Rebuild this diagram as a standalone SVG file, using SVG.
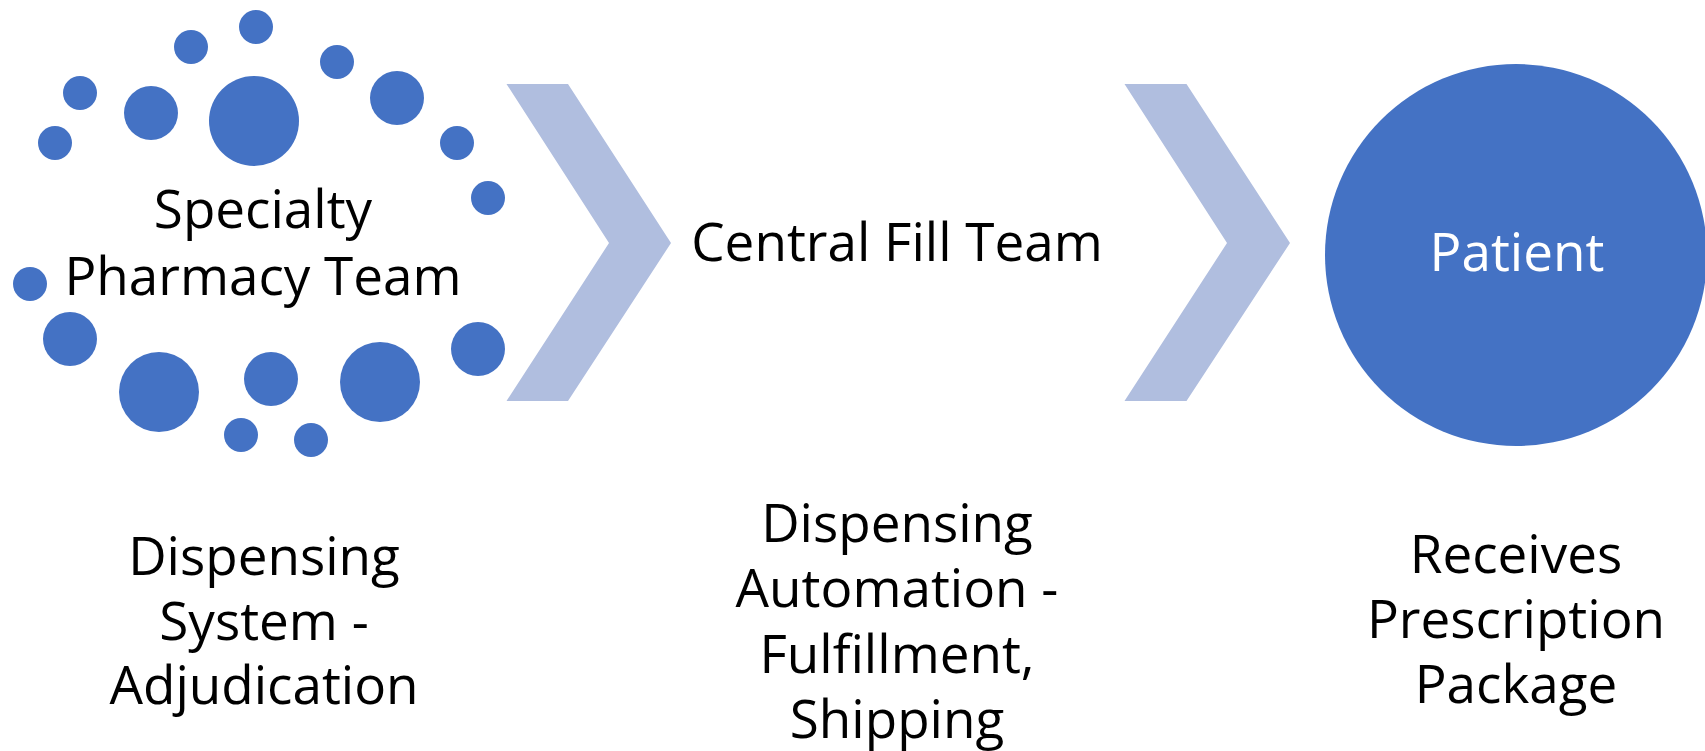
<svg xmlns="http://www.w3.org/2000/svg" width="1705" height="751" viewBox="0 0 1705 751">
<style>
.dot{fill:#4472C4}
.chev{fill:#B0BEDF}
.t{font-family:"Open Sans","Noto Sans","Liberation Sans",sans-serif;font-size:53px;fill:#000;text-anchor:middle}
.w{fill:#fff}
</style>
<rect width="1705" height="751" fill="#fff"/>
<g id="specialty-pharmacy-team">
<circle class="dot" cx="256" cy="27" r="17"/>
<circle class="dot" cx="191" cy="47" r="17"/>
<circle class="dot" cx="337" cy="62" r="17"/>
<circle class="dot" cx="80" cy="93" r="17"/>
<circle class="dot" cx="151" cy="113" r="27"/>
<circle class="dot" cx="254" cy="121" r="45"/>
<circle class="dot" cx="397" cy="98" r="27"/>
<circle class="dot" cx="55" cy="143" r="17"/>
<circle class="dot" cx="457" cy="143" r="17"/>
<circle class="dot" cx="488" cy="198" r="17"/>
<circle class="dot" cx="30" cy="284" r="17"/>
<circle class="dot" cx="70" cy="339" r="27"/>
<circle class="dot" cx="478" cy="349" r="27"/>
<circle class="dot" cx="159" cy="392" r="40"/>
<circle class="dot" cx="271" cy="379" r="27"/>
<circle class="dot" cx="380" cy="382" r="40"/>
<circle class="dot" cx="241" cy="435" r="17"/>
<circle class="dot" cx="311" cy="440" r="17"/>
<text class="t" x="263" y="228">Specialty</text>
<text class="t" x="263" y="295">Pharmacy Team</text>
</g>
<g id="connectors">
<polygon class="chev" points="506.5,84 568,84 671,243 568,401 506.5,401 609,243"/>
<polygon class="chev" points="1124.5,84 1186.5,84 1290,243 1186.5,401 1124.5,401 1227,243"/>
</g>
<g id="central-fill-team">
<text class="t" x="897" y="261">Central Fill Team</text>
</g>
<g id="patient">
<circle class="dot" cx="1516" cy="255" r="191"/>
<text class="t w" x="1517" y="271">Patient</text>
</g>
<g id="label-dispensing-system">
<text class="t" x="264" y="575">Dispensing</text>
<text class="t" x="264" y="640">System -</text>
<text class="t" x="264" y="704">Adjudication</text>
</g>
<g id="label-dispensing-automation">
<text class="t" x="897" y="542">Dispensing</text>
<text class="t" x="897" y="607">Automation -</text>
<text class="t" x="897" y="673">Fulfillment,</text>
<text class="t" x="897" y="738">Shipping</text>
</g>
<g id="label-receives">
<text class="t" x="1516" y="573">Receives</text>
<text class="t" x="1516" y="638">Prescription</text>
<text class="t" x="1516" y="703">Package</text>
</g>
</svg>
